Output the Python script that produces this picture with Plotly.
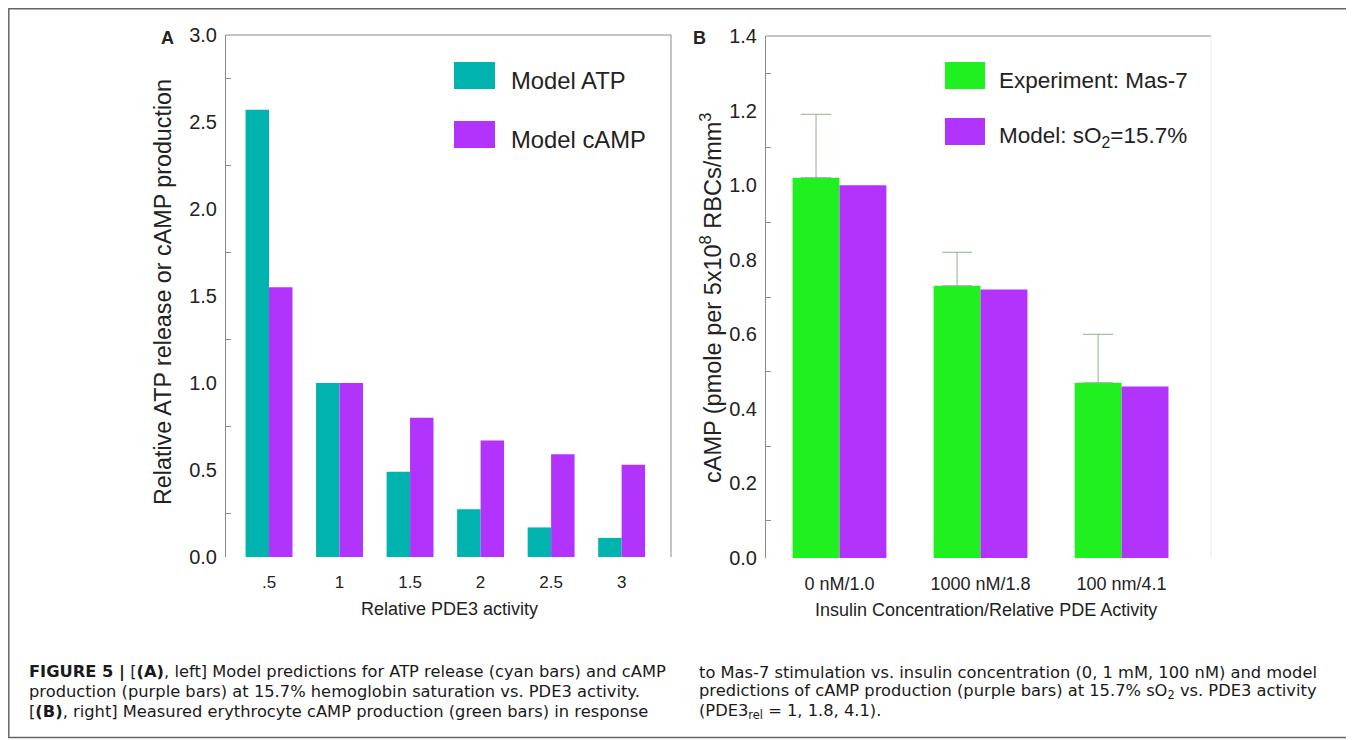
import plotly.graph_objects as go

# The page body has an 8px margin, so the figure is offset by 8px; map reference pixels accordingly.
OFF = 8
W, H = 1354 - OFF, 740 - OFF

# ---------------- data ----------------
pde3_labels = [".5", "1", "1.5", "2", "2.5", "3"]
model_atp = [2.57, 1.0, 0.49, 0.275, 0.17, 0.11]
model_camp_a = [1.55, 1.0, 0.80, 0.67, 0.59, 0.53]

insulin_labels = ["0 nM/1.0", "1000 nM/1.8", "100 nm/4.1"]
exp_mas7 = [1.02, 0.73, 0.47]
exp_mas7_err = [0.17, 0.09, 0.13]
model_camp_b = [1.0, 0.72, 0.46]

CYAN = "#00B3AE"
PURPLE = "#B233FB"
GREEN = "#20F020"
AXC = "#8a8a8a"
TXT = "#222222"
FONT = "Liberation Sans, Arial, sans-serif"
CAP_FONT = "DejaVu Sans, Liberation Sans, sans-serif"


def px(x):
    return (x - OFF) / W


def py(y):
    return 1 - (y - OFF) / H


fig = go.Figure()

fig.add_trace(go.Bar(x=pde3_labels, y=model_atp, name="Model ATP", marker=dict(color=CYAN, line=dict(width=0)),
                     xaxis="x", yaxis="y", showlegend=False))
fig.add_trace(go.Bar(x=pde3_labels, y=model_camp_a, name="Model cAMP", marker=dict(color=PURPLE, line=dict(width=0)),
                     xaxis="x", yaxis="y", showlegend=False))

fig.add_trace(go.Bar(x=insulin_labels, y=exp_mas7, name="Experiment: Mas-7",
                     marker=dict(color=GREEN, line=dict(width=0)),
                     error_y=dict(type="data", symmetric=False, array=exp_mas7_err,
                                  arrayminus=[0, 0, 0], color="#8db38d", thickness=1, width=15),
                     xaxis="x2", yaxis="y2", showlegend=False))
fig.add_trace(go.Bar(x=insulin_labels, y=model_camp_b, name="Model: sO2=15.7%",
                     marker=dict(color=PURPLE, line=dict(width=0)),
                     xaxis="x2", yaxis="y2", showlegend=False))

yaxis_common = dict(showline=True, linecolor=AXC, linewidth=1, showgrid=False, zeroline=False,
                    automargin=False,
                    ticks="", tickfont=dict(size=20, color=TXT, family=FONT), ticklabelstandoff=4)
xaxis_common = dict(showline=False, showgrid=False, zeroline=False, ticks="", type="category",
                    automargin=False, ticklabelstandoff=13)

fig.update_layout(
    template="none",
    width=W, height=H,
    margin=dict(l=0, r=0, t=0, b=0, pad=0, autoexpand=False),
    paper_bgcolor="white", plot_bgcolor="white",
    barmode="group", bargap=0.335, bargroupgap=0,
    showlegend=False,
    font=dict(family=FONT, color=TXT),
    xaxis=dict(domain=[px(226), px(671)], anchor="y", range=[-0.61, 5.70],
               tickfont=dict(size=17, color=TXT, family=FONT), **xaxis_common),
    yaxis=dict(domain=[py(557), py(35)], anchor="x", range=[0, 3.0], dtick=0.5, tickformat=".1f",
               minor=dict(ticks="inside", ticklen=5, tickcolor=AXC, dtick=0.25, tick0=0), **yaxis_common),
    xaxis2=dict(domain=[px(766), px(1211)], anchor="y2", range=[-0.521, 2.634],
                tickfont=dict(size=18, color=TXT, family=FONT), **xaxis_common),
    yaxis2=dict(domain=[py(558), py(36)], anchor="x2", range=[0, 1.4], dtick=0.2, tickformat=".1f",
                minor=dict(ticks="inside", ticklen=5, tickcolor=AXC, dtick=0.1, tick0=0), **yaxis_common),
)

shapes = []
# frame lines (top + right) for panel A, top for panel B
shapes.append(dict(type="line", xref="x domain", yref="y domain", x0=0, x1=1, y0=1, y1=1,
                   line=dict(color=AXC, width=1)))
shapes.append(dict(type="line", xref="x domain", yref="y domain", x0=1, x1=1, y0=0, y1=1,
                   line=dict(color=AXC, width=1)))
shapes.append(dict(type="line", xref="x2 domain", yref="y2 domain", x0=0, x1=1, y0=1, y1=1,
                   line=dict(color=AXC, width=1)))
shapes.append(dict(type="line", xref="x2 domain", yref="y2 domain", x0=1, x1=1, y0=0, y1=1,
                   line=dict(color="#ececec", width=1)))
# outer border
shapes.append(dict(type="rect", xref="paper", yref="paper", x0=px(8.8), x1=px(1352.5), y0=py(737.5), y1=py(8.8),
                   line=dict(color="#666666", width=1.5)))
# legend swatches
for (x0, x1, y0, y1, c) in [(454, 495, 62, 89, CYAN), (454, 495, 121, 148, PURPLE),
                            (945, 985, 62, 89, GREEN), (945, 985, 118, 145, PURPLE)]:
    shapes.append(dict(type="rect", xref="paper", yref="paper", x0=px(x0), x1=px(x1), y0=py(y1), y1=py(y0),
                       fillcolor=c, line=dict(width=0)))
fig.update_layout(shapes=shapes)

ann = []


def text(x, y, s, size, xanchor="center", angle=0, color=TXT, family=FONT):
    ann.append(dict(x=px(x), y=py(y), xref="paper", yref="paper", text=s, showarrow=False,
                    xanchor=xanchor, yanchor="middle", textangle=angle,
                    font=dict(size=size, color=color, family=family)))


# legend labels
text(509, 80, "Model ATP", 23.8, "left")
text(509, 139, "Model cAMP", 23.8, "left")
text(997, 80, "Experiment: Mas-7", 22.5, "left")
text(997, 137, "Model: sO<sub>2</sub>=15.7%", 22.5, "left")
# panel letters
text(167, 38, "<b>A</b>", 18)
text(700, 38, "<b>B</b>", 18)
# axis titles
text(163, 292, "Relative ATP release or cAMP production", 23.3, angle=-90)
text(449, 609, "Relative PDE3 activity", 18)
text(711, 298, "cAMP (pmole per 5x10<sup>8</sup> RBCs/mm<sup>3</sup>", 23.5, angle=-90)
text(986, 610, "Insulin Concentration/Relative PDE Activity", 18)

# caption
cap_left = [
    "<b>FIGURE 5 |</b> [<b>(A)</b>, left] Model predictions for ATP release (cyan bars) and cAMP",
    "production (purple bars) at 15.7% hemoglobin saturation vs. PDE3 activity.",
    "[<b>(B)</b>, right] Measured erythrocyte cAMP production (green bars) in response",
]
cap_right = [
    "to Mas-7 stimulation vs. insulin concentration (0, 1 mM, 100 nM) and model",
    "predictions of cAMP production (purple bars) at 15.7% sO<sub>2</sub> vs. PDE3 activity",
    "(PDE3<sub>rel</sub> = 1, 1.8, 4.1).",
]
for i, (l, r) in enumerate(zip(cap_left, cap_right)):
    yy = 672 + i * 19.5
    text(27, yy, l, 16.3, "left", color="#1a1a1a", family=CAP_FONT)
    text(697, yy, r, 16.3, "left", color="#1a1a1a", family=CAP_FONT)

fig.update_layout(annotations=ann)

fig.write_html("out.html")
